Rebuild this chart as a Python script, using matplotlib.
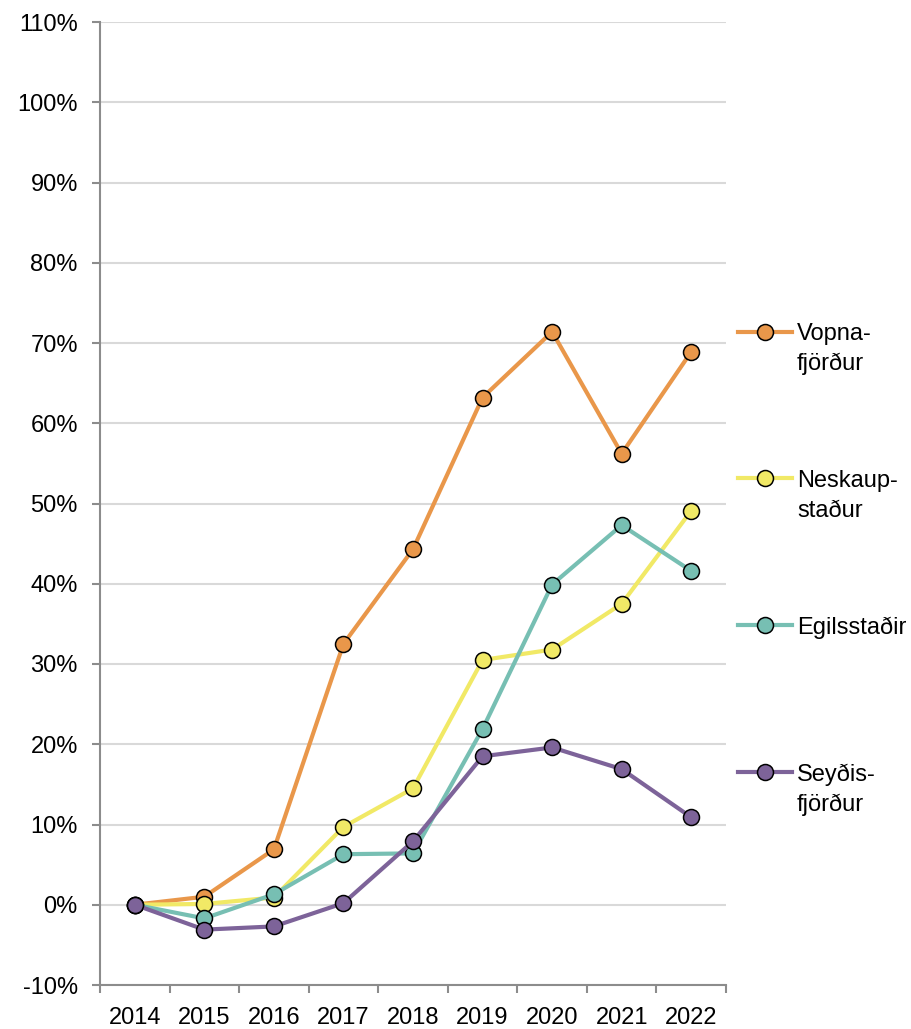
import matplotlib
matplotlib.use("Agg")
import matplotlib.pyplot as plt
from matplotlib.ticker import PercentFormatter, FixedLocator

plt.rcParams['font.family'] = ['Liberation Sans', 'DejaVu Sans']
plt.rcParams['axes.unicode_minus'] = False

# Cumulative change since 2014 (%)
years = ['2014', '2015', '2016', '2017', '2018', '2019', '2020', '2021', '2022']
vopnafjordur = [0, 1.0, 6.9, 32.5, 44.3, 63.2, 71.4, 56.2, 68.9]
neskaupstadur = [0, 0.1, 0.9, 9.7, 14.5, 30.5, 31.8, 37.5, 49.1]
egilsstadir = [0, -1.7, 1.3, 6.3, 6.4, 21.9, 39.9, 47.3, 41.6]
seydisfjordur = [0, -3.1, -2.7, 0.2, 7.9, 18.5, 19.6, 16.9, 10.9]

series = [
    (vopnafjordur, '#E9974A', 'Vopna-', 'fjörður'),
    (neskaupstadur, '#F1E966', 'Neskaup-', 'staður'),
    (egilsstadir, '#77BFB3', 'Egilsstaðir', None),
    (seydisfjordur, '#7D6399', 'Seyðis-', 'fjörður'),
]

FS = 17

fig = plt.figure(figsize=(9.11, 10.29), dpi=100)
ax = fig.add_axes([100 / 911, 1 - 985 / 1029, 626 / 911, 963 / 1029])

x = list(range(len(years)))
for vals, color, first, second in series:
    ax.plot(x, vals, color=color, lw=3, marker='o', ms=11.5,
            mfc=color, mec='black', mew=1.1, label=first, zorder=3)

ax.set_xlim(-0.5, len(years) - 0.5)
ax.set_ylim(-10, 110)
ax.set_yticks(range(-10, 111, 10))
ax.yaxis.set_major_formatter(PercentFormatter(decimals=0))

# category axis: ticks on the boundaries, labels in the middle
ax.xaxis.set_major_locator(FixedLocator([i - 0.5 for i in range(len(years) + 1)]))
ax.set_xticklabels([])
ax.set_xticks(x, minor=True)
ax.set_xticklabels(years, minor=True)
ax.tick_params(axis='x', which='minor', length=0, pad=16, labelsize=FS)
ax.tick_params(axis='x', which='major', length=6, width=1.5, color='#8c8c8c')
ax.tick_params(axis='y', length=6, width=1.5, color='#8c8c8c', pad=10, labelsize=FS)

ax.grid(axis='y', color='#d9d9d9', lw=1.5, zorder=0)
ax.set_axisbelow(True)
for s in ['top', 'right']:
    ax.spines[s].set_visible(False)
for s in ['left', 'bottom']:
    ax.spines[s].set_color('#8c8c8c')
    ax.spines[s].set_linewidth(1.5)

leg = ax.legend(loc='upper left', bbox_to_anchor=(738 / 911, 1 - 323 / 1029),
                bbox_transform=fig.transFigure, frameon=False, fontsize=FS,
                handlelength=2.29, handletextpad=0.21, labelspacing=5.28,
                borderpad=0, borderaxespad=0)

# second line of the wrapped legend labels
for txt, (_, _, _, second) in zip(leg.get_texts(), series):
    if second:
        ax.annotate(second, xy=(0, 0), xycoords=txt, xytext=(0, -18),
                    textcoords='offset points', fontsize=FS, va='baseline',
                    ha='left', zorder=10, annotation_clip=False)

fig.savefig('out.png', dpi=100)
